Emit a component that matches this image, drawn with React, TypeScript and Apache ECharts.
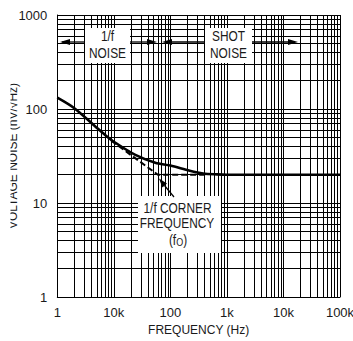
import React, { useEffect, useRef } from "react";
import * as echarts from "echarts";

// ---- data ----
const xTickValues = [1, 10, 100, 1000, 10000, 100000];
const xTickLabels = ["1", "10k", "100", "1k", "10k", "100k"];
const yTickValues = [1, 10, 100, 1000];
const yTickLabels = ["1", "10", "100", "1000"];

const noiseFreq = [1, 2, 4.6, 7, 10.5, 24, 54, 100, 220, 380, 670, 1000, 10000, 100000];
const noiseValues = [132, 102, 66, 53, 44, 32.5, 26.8, 25, 22, 20.6, 20.15, 20, 20, 20];

const asymFreq = [9, 60, 450];
const asymValues = [46, 20, 20];

const gridMultipliers = [1, 2, 3, 4, 5, 6, 7, 8, 9];
const xDecades = [1, 10, 100, 1000, 10000];
const yDecades = [1, 10, 100];

const FONT = "'Liberation Sans', Arial, Helvetica, sans-serif";
const TXT = "#1a1a1a";

export default function App() {
  const ref = useRef<HTMLDivElement>(null);
  useEffect(() => {
    if (!ref.current) return;
    const chart = echarts.init(ref.current, null, { renderer: "svg" });

    const xGrid: number[] = [];
    xDecades.forEach((d) => gridMultipliers.forEach((m) => xGrid.push(d * m)));
    xGrid.push(100000);
    const yGrid: number[] = [];
    yDecades.forEach((d) => gridMultipliers.forEach((m) => yGrid.push(d * m)));
    yGrid.push(1000);

    const gridLines = [
      ...xGrid.map((v) => ({ xAxis: v })),
      ...yGrid.map((v) => ({ yAxis: v })),
    ];

    const SX = 0.82;
    const textEl = (x: number, y: number, text: string) => ({
      type: "text",
      z: 110,
      x,
      y,
      scaleX: SX,
      style: {
        text,
        fontFamily: FONT,
        fontSize: 14.5,
        fill: TXT,
        align: "center",
        verticalAlign: "middle",
      },
    });
    const hLine = (x1: number, x2: number, y: number) => ({
      type: "line",
      z: 105,
      shape: { x1, y1: y, x2, y2: y },
      style: { stroke: "#000", lineWidth: 1.3 },
    });
    const head = (tip: number, y: number, dir: number) => ({
      type: "polygon",
      z: 106,
      shape: {
        points: [
          [tip, y],
          [tip - dir * 10, y - 3],
          [tip - dir * 10, y + 3],
        ],
      },
      style: { fill: "#000" },
    });

    const option: any = {
      animation: false,
      grid: {
        left: 57.3,
        right: 13,
        top: 15,
        bottom: 44,
        containLabel: false,
        outerBoundsMode: "none",
      },
      xAxis: {
        type: "log",
        logBase: 10,
        min: 1,
        max: 100000,
        splitNumber: 5,
        name: "FREQUENCY (Hz)",
        nameLocation: "middle",
        nameGap: 27,
        nameMoveOverlap: false,
        nameTextStyle: { fontFamily: FONT, fontSize: 12, color: TXT },
        axisLine: { show: true, lineStyle: { color: "#000", width: 1 } },
        axisTick: { show: false },
        splitLine: { show: false },
        minorSplitLine: { show: false },
        axisLabel: {
          fontFamily: FONT,
          fontSize: 13,
          color: TXT,
          margin: 9,
          formatter: (v: number) => {
            const i = xTickValues.findIndex((t) => Math.abs(t - v) / t < 1e-6);
            return i >= 0 ? xTickLabels[i] : "";
          },
        },
      },
      yAxis: {
        type: "log",
        logBase: 10,
        min: 1,
        max: 1000,
        splitNumber: 3,
        name: "VOLTAGE NOISE (nV/√Hz)",
        nameLocation: "middle",
        nameGap: 38.5,
        nameMoveOverlap: false,
        nameRotate: 90,
        nameTextStyle: { fontFamily: FONT, fontSize: 12, color: TXT },
        axisLine: { show: true, lineStyle: { color: "#000", width: 1 } },
        axisTick: { show: false },
        splitLine: { show: false },
        axisLabel: {
          fontFamily: FONT,
          fontSize: 13,
          color: TXT,
          margin: 10,
          formatter: (v: number) => {
            const i = yTickValues.findIndex((t) => Math.abs(t - v) / t < 1e-6);
            return i >= 0 ? yTickLabels[i] : "";
          },
        },
      },
      series: [
        {
          type: "line",
          name: "grid",
          data: [],
          silent: true,
          markLine: {
            silent: true,
            symbol: "none",
            label: { show: false },
            lineStyle: { color: "#000", width: 1, type: "solid" },
            emphasis: { disabled: true },
            data: gridLines,
          },
          z: 1,
        },
        {
          type: "line",
          name: "asymptote",
          data: asymFreq.map((f, i) => [f, asymValues[i]]),
          showSymbol: false,
          symbol: "none",
          lineStyle: { color: "#000", width: 2, type: [6, 3] },
          z: 3,
        },
        {
          type: "line",
          name: "noise",
          data: noiseFreq.map((f, i) => [f, noiseValues[i]]),
          showSymbol: false,
          symbol: "none",
          smooth: 0.3,
          lineStyle: { color: "#000", width: 2.6 },
          z: 4,
        },
      ],
      graphic: [
        // clip of y-axis title at the left edge
        { type: "rect", z: 200, shape: { x: 0, y: 30, width: 10.5, height: 260 }, style: { fill: "#fff" } },
        // 1/f NOISE box
        { type: "rect", z: 100, shape: { x: 85, y: 28, width: 45, height: 35 }, style: { fill: "#fff" } },
        textEl(107.5, 36, "1/f"),
        textEl(107.5, 53.5, "NOISE"),
        // SHOT NOISE box
        { type: "rect", z: 100, shape: { x: 205, y: 28, width: 47, height: 35 }, style: { fill: "#fff" } },
        textEl(228.5, 36, "SHOT"),
        textEl(228.5, 53.5, "NOISE"),
        // arrows
        hLine(62, 85, 42),
        head(60, 42, -1),
        hLine(130, 152, 42),
        head(157, 42, 1),
        hLine(167, 205, 42),
        head(162, 42, -1),
        hLine(252, 293, 42),
        head(298, 42, 1),
        // corner label box
        { type: "rect", z: 100, shape: { x: 138, y: 196, width: 83, height: 57 }, style: { fill: "#fff" } },
        textEl(177.5, 208, "1/f CORNER"),
        textEl(177, 223.5, "FREQUENCY"),
        {
          type: "text",
          z: 110,
          x: 178,
          y: 240,
          scaleX: SX,
          style: {
            text: "(f{sub|O})",
            fontFamily: FONT,
            fontSize: 14.5,
            fill: TXT,
            align: "center",
            verticalAlign: "middle",
            rich: {
              sub: { fontFamily: FONT, fontSize: 11, fill: TXT, padding: [5, 0, 0, 0] },
            },
          },
        },
        // corner arrow
        {
          type: "line",
          z: 105,
          shape: { x1: 174, y1: 197, x2: 164.5, y2: 185.5 },
          style: { stroke: "#000", lineWidth: 1.2 },
        },
        {
          type: "polygon",
          z: 106,
          shape: { points: [[159, 178.5], [167, 183.6], [162.4, 187.4]] },
          style: { fill: "#000" },
        },
      ],
    };
    chart.setOption(option);
    return () => chart.dispose();
  }, []);
  return (
    <div
      ref={ref}
      style={{ position: "fixed", left: 0, top: 0, width: 353, height: 341, background: "#fff" }}
    />
  );
}
